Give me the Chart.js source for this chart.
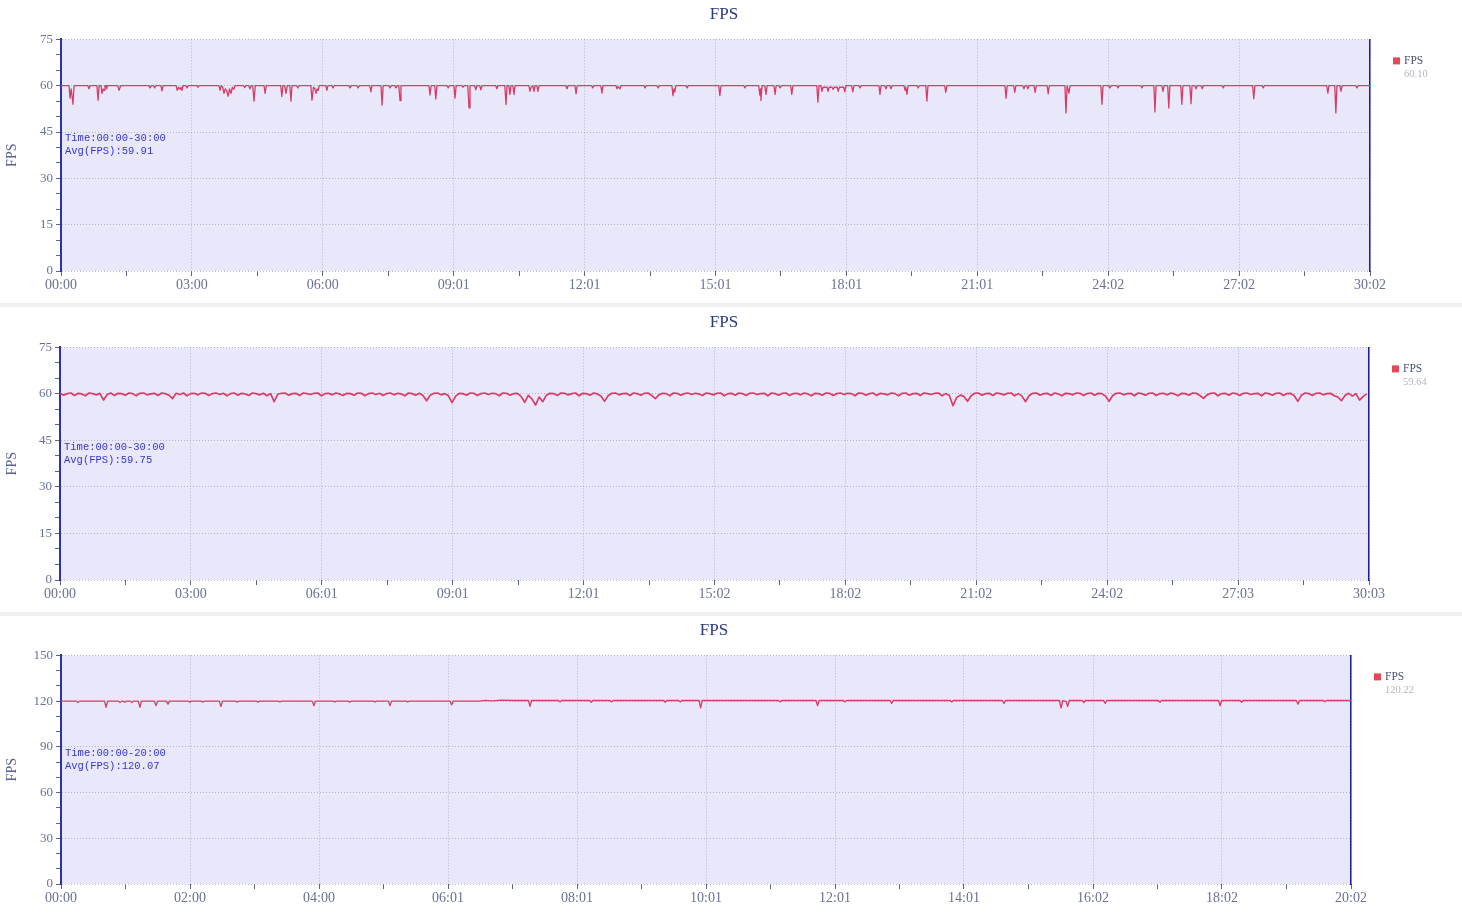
<!DOCTYPE html>
<html>
<head>
<meta charset="utf-8">
<title>FPS</title>
<script src="https://cdn.jsdelivr.net/npm/chart.js@4.4.0/dist/chart.umd.min.js"></script>
<style>
  body { margin: 0; background: #fff; }
  canvas { display: block; }
  .gap { height: 4px; background: #f0f0f0; }
</style>
</head>
<body>
<canvas id="c1" width="1448" height="303"></canvas>
<div class="gap"></div>
<canvas id="c2" width="1448" height="305"></canvas>
<div class="gap"></div>
<canvas id="c3" width="1428" height="299"></canvas>
<script>
// x tick labels (mm:ss)
const xLabels1 = ['00:00','03:00','06:00','09:01','12:01','15:01','18:01','21:01','24:02','27:02','30:02'];
const xLabels2 = ['00:00','03:00','06:01','09:01','12:01','15:02','18:02','21:02','24:02','27:03','30:03'];
const xLabels3 = ['00:00','02:00','04:00','06:01','08:01','10:01','12:01','14:01','16:02','18:02','20:02'];

// session lengths in seconds
const duration1 = 1802;
const duration2 = 1803;
const duration3 = 1202;

const legendAvg = ['60.10', '59.64', '120.22'];
const notes1 = ['Time:00:00-30:00', 'Avg(FPS):59.91'];
const notes2 = ['Time:00:00-30:00', 'Avg(FPS):59.75'];
const notes3 = ['Time:00:00-20:00', 'Avg(FPS):120.07'];

// run 1: [seconds, fps]
const fps1 = [
  [0,60],
  [11,60],[12.4,56],[14,59],[16.5,54],[18,60],
  [37,60],[38.5,59],[40,60],
  [49.5,60],[51,55.3],[52.5,60],[55,60],[56.4,57.5],[58,59],[59.2,58.5],[60.5,60],[62,60],[63,59],[64,60],
  [78,60],[80,58.5],[82,60],
  [121,60],[122.5,59.3],[124,60],[127.5,60],[129,59.3],[130.5,60],
  [137.5,60],[139,58.3],[140.5,60],
  [158.5,60],[160,58.5],[162,59.5],[164,58.8],[165.5,59.5],[166.6,58.5],[168,60],
  [172,60],[173.5,59.3],[175,60],
  [187,60],[188.6,59.5],[190,60],
  [217.5,60],[219,58.5],[220.5,60],[222.5,59.5],[224.4,57.5],[226,59],[228,58.5],[230,56.6],[232,59],[234,57.5],[236,59.5],[238,58.8],[239.5,60],
  [251.5,60],[253,59.4],[254.5,60],[258.5,60],[260,59],[261.5,60],[264,60],[265.7,55],[267.5,60],
  [279.5,60],[281,57.5],[282.5,60],
  [302.5,60],[304,56.5],[305.5,60],[308,60],[309.7,57.5],[311.5,60],[315,60],[316.6,55],[318,60],
  [324.5,60],[326,59.3],[327.5,60],
  [344,60],[345.5,55.3],[347.5,59.5],[349.5,59],[351,57.5],[352.5,59],[354,58.5],[355.5,60],
  [364.5,60],[366,58.5],[367.5,60],[373,60],[374.5,59.3],[376,60],
  [396.5,60],[398,59.3],[399.5,60],[407.5,60],[409,59.3],[410.5,60],
  [425,60],[426.7,58],[428,60],
  [440.5,60],[442,53.7],[443.5,60],
  [451.5,60],[453,59.3],[454.5,60],[459.5,60],[461,59.3],[462.5,60],[465,60],[466.7,55.2],[468,60],
  [506.5,60],[508,57],[509.5,60],[514.5,60],[516,55.7],[517.5,60],
  [531.5,60],[533,59.3],[534.5,60],[541,60],[542.4,56],[544,60],
  [552,60],[553.4,59.5],[555,60],[560,60],[561.7,52.8],[563,60],
  [569.5,60],[571,58.7],[572.5,60],[576.5,60],[578,58.7],[579.5,60],
  [598.5,60],[600,59],[601.5,60],
  [611,60],[612.6,53.9],[614,60],[616.5,60],[618,57.2],[619.5,60],[622,60],[623.6,57.2],[625,60],
  [644,60],[645.6,58.2],[647,59.5],[649.5,60],[651,58.2],[652.5,60],[655,60],[656.6,58.2],[658,60],
  [695,60],[696.6,59],[698,60],
  [707.5,60],[709,57.4],[710.5,60],
  [730.5,60],[732,59.3],[733.5,60],[743,60],[744.7,57.6],[746,60],
  [764,60],[765.4,59],[767,59.7],[769.5,59],[771,60],
  [802.5,60],[804,59.3],[805.5,60],[820.5,60],[822,59.3],[823.5,60],
  [841,60],[842.5,56.8],[844,59],[845,58],[846.5,60],
  [860.5,60],[862,59.3],[863.5,60],
  [905.5,60],[907,56.8],[908.5,60],
  [940,60],[941.6,59.3],[943,60],
  [960.5,60],[962,57],[963,59],[963.6,55.2],[965,60],[969,60],[970.5,57.2],[972,60],
  [981.5,60],[983,57.2],[984.5,60],[988.5,60],[990,59.3],[991.5,60],
  [1004.5,60],[1006,57.2],[1007.5,60],
  [1040.5,60],[1042,54.7],[1043.5,60],[1046,60],[1047.6,58.2],[1049,59.5],[1054.5,59.5],[1056,58.2],[1057.5,59.5],
  [1061.5,59.5],[1063,58.8],[1064.5,59.5],[1068.5,59.5],[1070,58.2],[1071.5,59.5],[1077.5,59.5],[1079,58],[1080.5,60],
  [1088.5,60],[1090,58],[1091.5,60],[1098.5,60],[1100,59.3],[1101.5,60],
  [1126,60],[1127.4,57.2],[1129,60],[1134,60],[1135.7,59],[1137,60],[1141,60],[1142.6,59],[1144,60],
  [1160.5,60],[1162,58.5],[1163,59.5],[1164.6,57.2],[1166,60],
  [1178.5,60],[1180,59.3],[1181.5,60],
  [1190.5,60],[1192,55],[1193.5,60],
  [1216.5,60],[1218,57.8],[1219.5,60],
  [1299.5,60],[1301,56],[1302.5,60],
  [1311.5,60],[1313,57.8],[1314.5,60],[1324,60],[1325.6,59],[1327,60],[1329.5,60],[1331,59],[1332.5,60],
  [1339.5,60],[1341,57.8],[1342.5,60],
  [1357.5,60],[1359,57.4],[1360.5,60],
  [1382,60],[1383.5,51.2],[1385,60],[1386,60],[1387.6,57.6],[1389,60],
  [1431.5,60],[1433,54],[1434.5,60],
  [1442.5,60],[1444,59.3],[1445.5,60],[1453.5,60],[1455,59.3],[1456.5,60],
  [1486.5,60],[1488,59.3],[1489.5,60],
  [1504.5,60],[1506,51.5],[1507.5,60],[1515.5,60],[1517,58.2],[1518.5,60],[1523.5,60],[1525,52.8],[1526.5,60],
  [1541.5,60],[1543,54],[1544.5,60],[1554,60],[1555.6,54.2],[1557,60],
  [1561,60],[1562.5,59],[1564,60],[1569.5,60],[1571,59],[1572.5,60],
  [1598.5,60],[1600,59.3],[1601.5,60],
  [1640.5,60],[1642,55.8],[1643.5,60],[1653.5,60],[1655,59.3],[1656.5,60],
  [1742.5,60],[1744,57.6],[1745.5,60],[1753.5,60],[1755,51.2],[1756.5,60],[1760.5,60],[1762,58.2],[1763.5,60],
  [1782.5,60],[1784,59.3],[1785.5,60],
  [1802,60]
];

// run 2: one sample every 5 s
const fps2Step = 5;
const fps2 = [
  60.2,59.6,60.1,60.3,59.5,60.2,60.0,59.4,60.3,60.1,59.7,60.2,58.0,59.8,60.3,59.5,60.2,60.1,59.6,60.3,
  60.1,59.4,60.2,60.3,59.7,60.0,60.2,59.5,60.3,60.1,59.6,58.5,60.2,59.8,60.3,59.4,60.1,60.2,59.7,60.3,
  60.2,59.5,60.1,60.3,59.8,60.2,59.4,60.1,60.3,59.6,60.2,60.0,59.5,60.3,60.1,59.7,60.2,59.4,60.1,57.5,
  59.9,60.2,60.3,59.6,60.1,60.2,59.5,60.3,60.1,59.8,60.2,60.3,59.4,60.1,60.2,59.7,60.3,60.0,59.5,60.2,
  60.1,59.6,60.3,60.2,59.4,60.1,60.3,59.8,60.2,59.5,60.1,60.3,59.7,60.2,60.0,59.4,60.3,60.1,59.6,60.2,
  59.5,57.8,59.6,60.2,60.3,59.7,60.1,59.4,57.2,59.3,60.2,60.1,59.6,60.3,60.2,59.5,60.1,60.3,59.8,60.2,
  60.1,59.4,60.3,60.2,59.6,60.1,60.2,59.2,57.3,59.5,58.4,56.4,59.0,57.5,59.6,60.2,60.1,59.5,60.3,60.2,
  59.7,60.1,60.3,59.4,60.2,60.1,59.6,60.3,60.0,59.3,57.6,59.4,60.2,60.3,59.7,60.1,60.2,59.5,60.3,60.1,
  59.6,60.2,60.3,59.5,58.5,59.7,60.2,60.1,59.4,60.3,60.2,59.6,60.1,60.3,59.8,60.2,60.0,59.5,60.3,60.1,
  59.7,60.2,60.3,59.4,60.1,60.2,59.6,60.3,60.1,59.5,60.2,60.3,59.8,60.1,60.2,59.4,60.3,60.1,59.6,60.2,
  60.3,59.5,60.1,60.2,59.7,60.3,60.0,59.4,60.2,60.1,59.6,60.3,60.2,59.5,60.1,60.3,59.8,60.2,60.1,59.4,
  60.3,60.2,59.6,60.1,60.3,59.5,60.2,60.0,59.7,60.3,60.1,59.4,60.2,60.3,59.6,60.1,60.2,59.5,60.3,60.1,
  59.8,60.2,60.3,59.4,60.1,59.5,56.2,58.8,59.6,59.2,57.6,59.4,60.2,60.3,59.6,60.1,60.2,59.5,60.3,60.1,
  59.7,60.2,60.3,59.4,60.1,59.3,57.5,59.5,60.2,60.3,59.6,60.1,60.2,59.5,60.3,60.0,59.4,60.2,60.1,59.7,
  60.3,60.2,59.5,60.1,60.3,59.6,60.2,60.1,59.3,57.6,59.5,60.2,60.3,59.7,60.1,60.2,59.4,60.3,60.1,59.6,
  60.2,60.3,59.5,60.1,60.2,59.7,60.3,60.0,59.4,60.2,60.1,59.6,60.3,60.2,59.5,58.6,59.7,60.2,60.3,59.4,
  60.1,60.2,59.6,60.3,60.1,59.5,60.2,60.3,59.8,60.1,60.2,59.4,60.3,60.1,59.6,60.2,60.3,59.5,60.1,60.2,
  59.4,57.6,59.6,60.3,60.1,59.5,60.2,60.3,59.7,60.1,60.2,59.4,59.0,57.8,59.5,60.2,59.3,60.1,58.0,59.2,
  60.0
];

// run 3: [seconds, fps]
const fps3 = [
  [0,120],[14.3,120],[15.8,119],[17.3,120],
  [40.5,120],[42,116],[43.5,120],
  [53.5,120],[55,119],[56.5,120],[58,120],[59.6,119.3],[61,120],[64.5,120],[66,119],[67.5,120],
  [72,120],[73.6,116],[75,120],
  [87,120],[88.5,117],[90,120],[98,120],[99.7,118],[101,120],
  [118.5,120],[120,119.3],[121.5,120],[130.5,120],[132,119.3],[133.5,120],
  [147.5,120],[149,116.5],[150.5,120],[162.5,120],[164,119.3],[165.5,120],
  [182,120],[183.6,119.3],[185,120],[202.5,120],[204,119.5],[205.5,120],
  [234,120],[235.7,117],[237,120],
  [253.5,120],[255,119.5],[256.5,120],[267.5,120],[269,119.3],[270.5,120],
  [291,120],[292.6,119.5],[294,120],[305,120],[306.6,117],[308,120],
  [321.5,120],[323,119.5],[324.5,120],
  [362.5,120],[364,117.5],[365.5,120],
  [390,120],[395,120.5],[402,120.2],[410,120.6],[421,120.4],
  [435.5,120.4],[437,116.5],[438.5,120.4],
  [463.5,120.4],[465,119.5],[466.5,120.4],[492.5,120.4],[494,119.3],[495.5,120.4],
  [511.5,120.4],[513,119.5],[514.5,120.4],
  [561.5,120.4],[563,119.3],[564.5,120.4],[575.5,120.4],[577,119.5],[578.5,120.4],
  [594.5,120.4],[596,115.5],[597.5,120.4],
  [668.5,120.4],[670,119.5],[671.5,120.4],
  [703.5,120.4],[705,117],[706.5,120.4],
  [729,120.4],[730.5,119.5],[732,120.4],
  [772.5,120.4],[774,118.5],[775.5,120.4],
  [828.5,120.4],[830,119.5],[831.5,120.4],
  [877,120.4],[878.7,118.5],[880,120.4],
  [930.3,120.4],[931.8,115.5],[933.5,120.4],[936.5,119.8],[938,116.5],[939.5,120.4],
  [951.5,120.4],[953,119],[954.5,120.4],
  [971.5,120.4],[973,118.5],[974.5,120.4],
  [1022.5,120.4],[1024,119.3],[1025.5,120.4],
  [1078.5,120.4],[1080,117],[1081.5,120.4],
  [1098.5,120.4],[1100,119.3],[1101.5,120.4],
  [1151,120.4],[1152.6,118],[1154,120.4],
  [1176.5,120.4],[1177.8,119.5],[1179,120.4],
  [1202,120.4]
];

const serif = '"Liberation Serif", "DejaVu Serif", serif';
const tickGrey = '#5c6488';
const gridGrey = 'rgba(150,150,185,0.65)';

// plot background, the time/avg note and the legend with its average
const panelPlugin = {
  id: 'panel',
  beforeDraw(chart) {
    const { ctx, chartArea: a } = chart;
    ctx.save();
    ctx.fillStyle = '#e8e8fa';
    ctx.fillRect(a.left, a.top, a.right - a.left, a.bottom - a.top);
    ctx.restore();
  },
  afterDraw(chart, args, opts) {
    const { ctx, chartArea: a } = chart;
    ctx.save();
    ctx.textBaseline = 'middle';
    ctx.textAlign = 'left';
    ctx.font = '10.5px "Liberation Mono", monospace';
    ctx.fillStyle = '#3636c8';
    const ny = a.top + (a.bottom - a.top) * 0.427;
    ctx.fillText(opts.note[0], a.left + 4, ny);
    ctx.fillText(opts.note[1], a.left + 4, ny + 13);

    const lx = a.right + 23;
    ctx.fillStyle = '#e6465a';
    ctx.fillRect(lx, a.top + 18, 7, 7);
    ctx.font = '11.5px ' + serif;
    ctx.fillStyle = '#4b5275';
    ctx.fillText('FPS', lx + 11, a.top + 22);
    ctx.font = '10.5px ' + serif;
    ctx.fillStyle = '#b4b4be';
    ctx.fillText(opts.avg, lx + 11, a.top + 34.5);
    ctx.restore();
  }
};

function makeChart(id, o) {
  return new Chart(document.getElementById(id), {
    type: 'line',
    data: {
      datasets: [{
        label: 'FPS',
        data: o.data,
        borderColor: '#d93c66',
        borderWidth: o.lineWidth,
        borderJoinStyle: 'round',
        pointRadius: 0,
        tension: 0,
        fill: false
      }]
    },
    options: {
      responsive: false,
      animation: false,
      events: [],
      layout: { padding: 0 },
      plugins: {
        legend: { display: false },
        tooltip: { enabled: false },
        title: {
          display: true,
          text: 'FPS',
          color: '#2c3a7e',
          font: { family: serif, size: 17, weight: 'normal' },
          padding: { top: o.titleTop, bottom: 15 }
        },
        panel: { note: o.note, avg: o.avg }
      },
      scales: {
        x: {
          type: 'linear',
          min: 0,
          max: o.xMax,
          afterBuildTicks: scale => {
            const ticks = [];
            for (let i = 0; i <= 20; i++) ticks.push({ value: o.xMax * i / 20 });
            scale.ticks = ticks;
          },
          afterFit: scale => { scale.height = o.xHeight; },
          ticks: {
            autoSkip: false,
            maxRotation: 0,
            padding: 1,
            color: '#6b7096',
            font: { family: serif, size: 14 },
            callback: (v, i) => (i % 2 ? '' : o.xLabels[i / 2])
          },
          grid: {
            color: c => (c.index % 2 ? 'transparent' : gridGrey),
            tickColor: tickGrey,
            tickLength: 5,
            lineWidth: 1
          },
          border: { display: false, dash: [1, 2] }
        },
        y: {
          min: 0,
          max: o.yMax,
          afterFit: scale => { scale.width = o.yWidth; },
          ticks: {
            stepSize: o.yStep,
            autoSkip: false,
            padding: 3,
            color: '#6b7096',
            font: { family: serif, size: 13 },
            callback: v => (v % o.yMajor === 0 ? v : '')
          },
          grid: {
            color: c => (c.tick && c.tick.value % o.yMajor === 0 ? gridGrey : 'transparent'),
            tickColor: tickGrey,
            tickLength: 5,
            lineWidth: 1
          },
          border: { color: '#2a34a8', width: 2, dash: [1, 2] },
          title: {
            display: true,
            text: 'FPS',
            color: '#5a6390',
            font: { family: serif, size: 14 },
            padding: { top: 4, bottom: 0 }
          }
        },
        y2: {
          type: 'linear',
          position: 'right',
          afterFit: scale => { scale.width = o.legendSpace; },
          ticks: { display: false },
          grid: { display: false, drawTicks: false },
          border: { color: '#1c1ca0', width: 1.5 }
        }
      }
    },
    plugins: [panelPlugin]
  });
}

makeChart('c1', {
  data: fps1, xMax: duration1, xLabels: xLabels1, yMax: 75, yStep: 5, yMajor: 15, lineWidth: 1.3,
  note: notes1, avg: legendAvg[0], titleTop: 4, xHeight: 32, yWidth: 61, legendSpace: 78
});

makeChart('c2', {
  data: fps2.map((v, i) => ({ x: i * fps2Step, y: v })),
  xMax: duration2, xLabels: xLabels2, yMax: 75, yStep: 5, yMajor: 15, lineWidth: 1.7,
  note: notes2, avg: legendAvg[1], titleTop: 5, xHeight: 32, yWidth: 60, legendSpace: 79
});

makeChart('c3', {
  data: fps3, xMax: duration3, xLabels: xLabels3, yMax: 150, yStep: 10, yMajor: 30, lineWidth: 1.3,
  note: notes3, avg: legendAvg[2], titleTop: 4, xHeight: 31, yWidth: 61, legendSpace: 77
});
</script>
</body>
</html>
